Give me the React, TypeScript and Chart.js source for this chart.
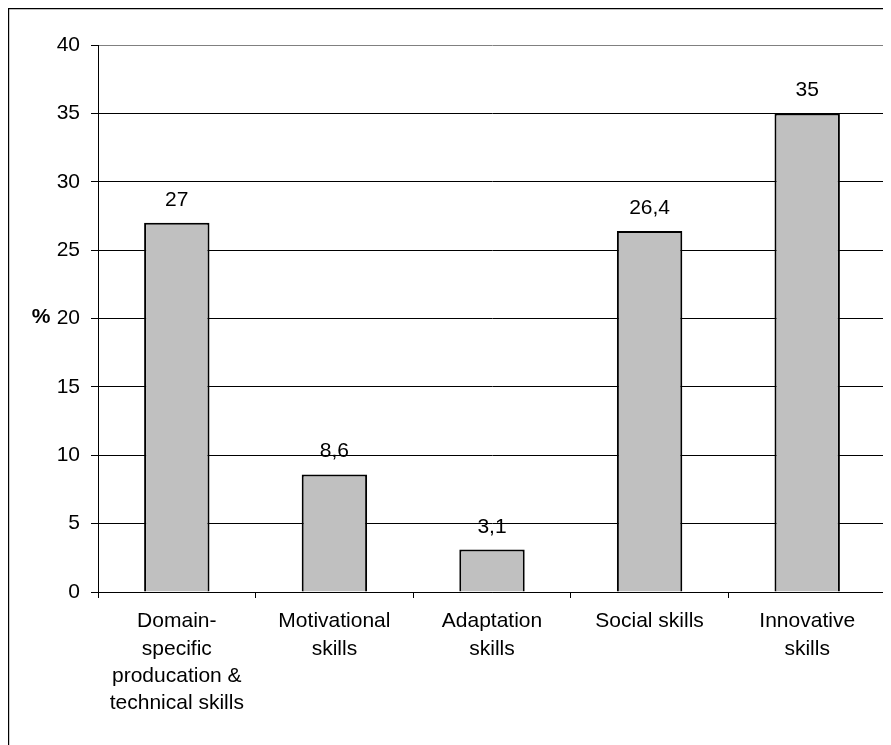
import React, { useEffect, useRef } from "react";
import { Chart, registerables } from "chart.js";

Chart.register(...registerables);

const categories: (string | string[])[] = [
  ["Domain-", "specific", "producation &", "technical skills"],
  ["Motivational", "skills"],
  ["Adaptation", "skills"],
  ["Social skills"],
  ["Innovative", "skills"],
];
const values: number[] = [27, 8.6, 3.1, 26.4, 35];
const valueLabels: string[] = ["27", "8,6", "3,1", "26,4", "35"];
const yTicks: number[] = [0, 5, 10, 15, 20, 25, 30, 35, 40];
const yAxisLabel = "%";

const FONT = "'Liberation Sans', Arial, sans-serif";
const FS = 21;

const decorPlugin = {
  id: "decor",
  beforeDraw(chart: any) {
    const ctx = chart.ctx;
    ctx.save();
    ctx.strokeStyle = "#000";
    ctx.lineWidth = 1.2;
    ctx.beginPath();
    ctx.moveTo(0.6, chart.height);
    ctx.lineTo(0.6, 0.6);
    ctx.lineTo(chart.width, 0.6);
    ctx.stroke();
    ctx.restore();
  },
  afterDraw(chart: any) {
    const ctx = chart.ctx;
    const area = chart.chartArea;
    ctx.save();
    ctx.strokeStyle = "#808080";
    ctx.lineWidth = 2;
    ctx.beginPath();
    ctx.moveTo(area.right - 1, area.top);
    ctx.lineTo(area.right - 1, area.bottom);
    ctx.stroke();
    ctx.fillStyle = "#000";
    ctx.font = `${FS}px ${FONT}`;
    ctx.textAlign = "center";
    ctx.textBaseline = "alphabetic";
    const meta = chart.getDatasetMeta(0);
    meta.data.forEach((bar: any, i: number) => {
      ctx.fillText(valueLabels[i], bar.x, bar.y - 17);
    });
    const yScale = chart.scales.y;
    ctx.font = `bold ${FS}px ${FONT}`;
    ctx.textBaseline = "middle";
    ctx.fillText(yAxisLabel, 33, yScale.getPixelForValue(20) - 1);
    ctx.restore();
  },
};

export default function App() {
  const ref = useRef<HTMLCanvasElement | null>(null);
  useEffect(() => {
    if (!ref.current) return;
    const chart = new Chart(ref.current, {
      type: "bar",
      data: {
        labels: categories,
        datasets: [
          {
            data: values,
            backgroundColor: "#C0C0C0",
            borderColor: "#000",
            borderWidth: 2,
            categoryPercentage: 1,
            barPercentage: 0.415,
          },
        ],
      },
      options: {
        animation: false,
        responsive: false,
        maintainAspectRatio: false,
        layout: { padding: { top: 37, right: 5, left: 0, bottom: 0 } },
        plugins: {
          legend: { display: false },
          tooltip: { enabled: false },
          title: { display: false },
        },
        scales: {
          x: {
            offset: true,
            afterFit: (s: any) => {
              s.height = 153;
              s.paddingLeft = 0;
              s.paddingRight = 0;
            },
            grid: {
              offset: true,
              drawOnChartArea: false,
              drawTicks: true,
              tickLength: 6,
              color: "#000",
              tickColor: "#000",
            },
            border: { color: "#000", width: 1 },
            ticks: {
              color: "#000",
              font: { family: FONT, size: FS, lineHeight: 1.3 },
              padding: 10,
              maxRotation: 0,
              autoSkip: false,
            },
          },
          y: {
            min: 0,
            max: 40,
            afterFit: (s: any) => {
              s.width = 90;
            },
            afterBuildTicks: (s: any) => {
              s.ticks = yTicks.map((v) => ({ value: v }));
            },
            grid: {
              color: (c: any) => (c.tick && c.tick.value === 40 ? "#808080" : "#000"),
              tickColor: "#000",
              lineWidth: 1,
              drawTicks: true,
              tickLength: 7,
            },
            border: { color: "#000", width: 1 },
            ticks: {
              color: "#000",
              font: { family: FONT, size: FS },
              padding: 11,
            },
          },
        },
      },
      plugins: [decorPlugin],
    });
    return () => chart.destroy();
  }, []);
  return (
    <div style={{ width: 883, height: 737 }}>
      <canvas ref={ref} width={883} height={737} style={{ display: "block" }} />
    </div>
  );
}
